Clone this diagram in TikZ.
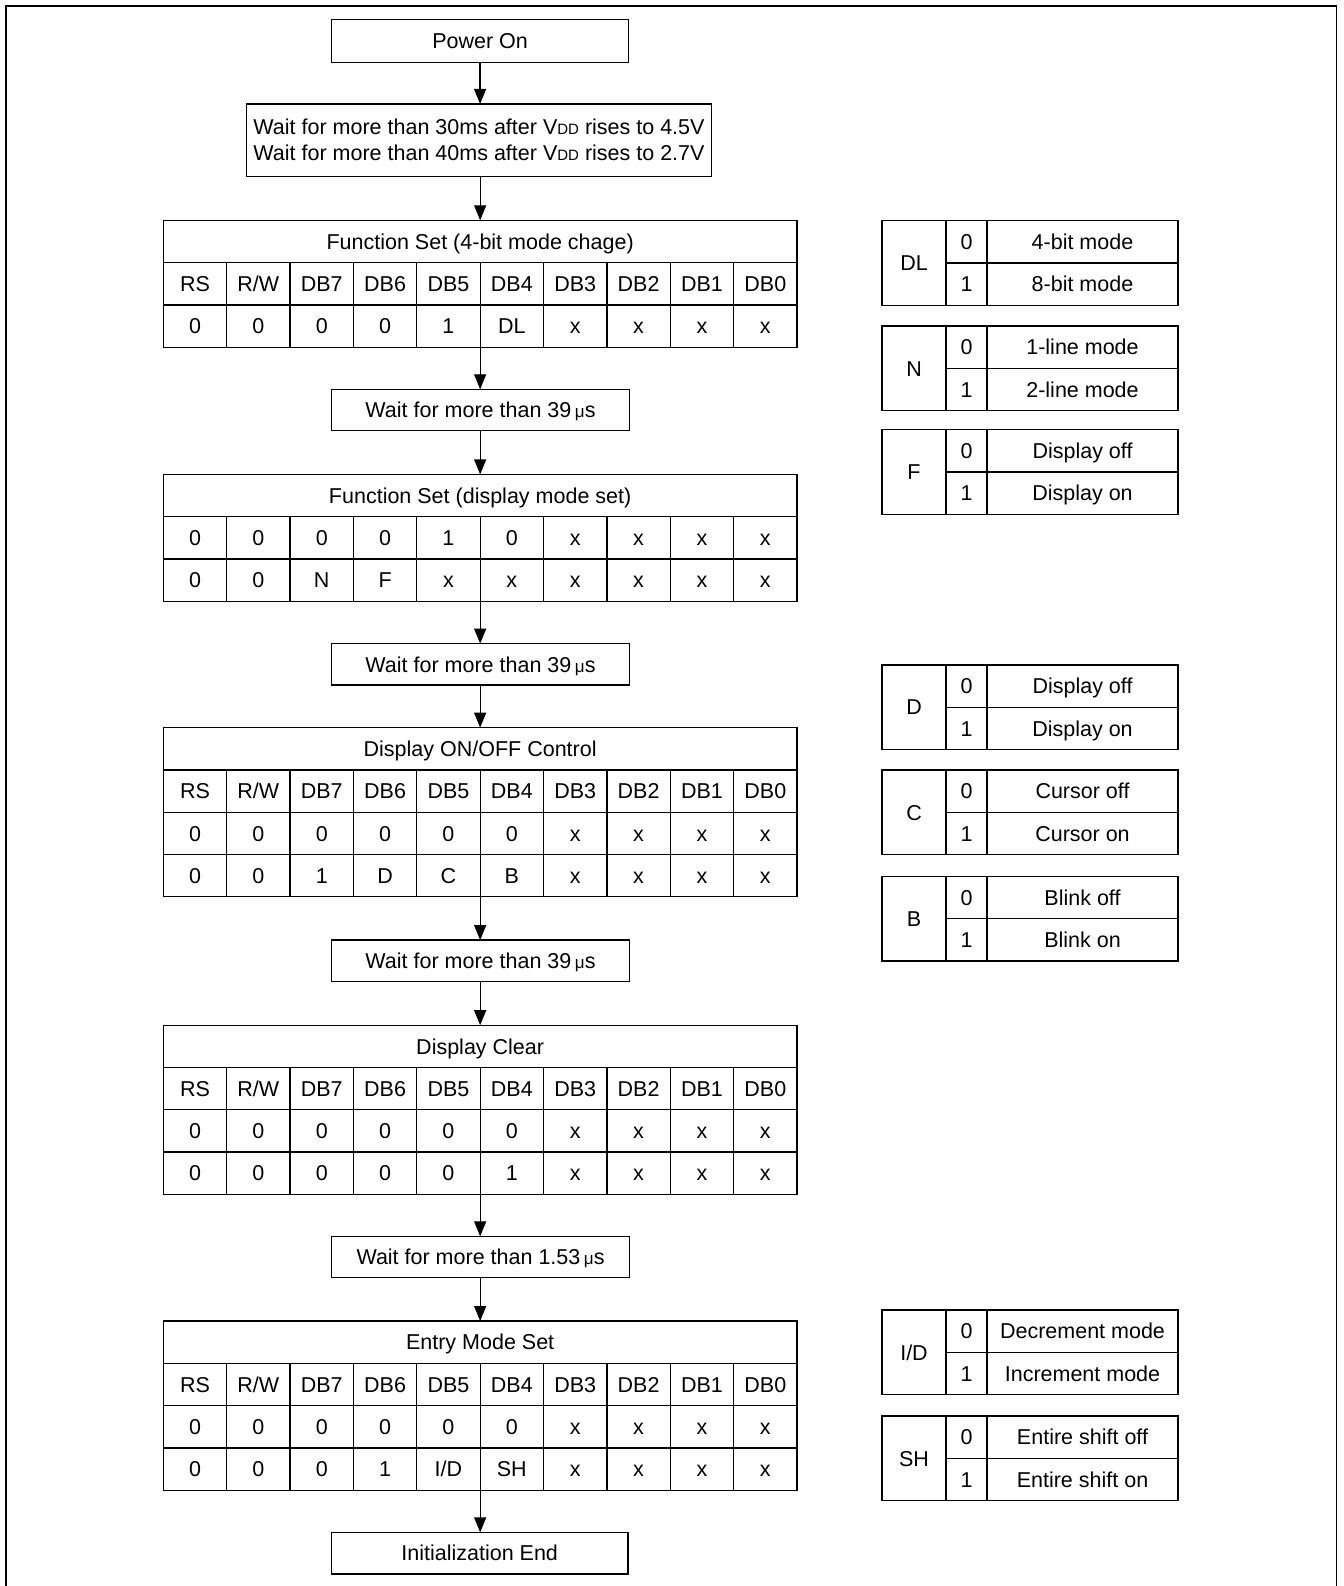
\documentclass[tikz,border=0pt]{standalone}
\usepackage{fontspec}
\setmainfont{Liberation Sans}
\usetikzlibrary{arrows.meta}
\tikzset{
  base/.style={font=\fontsize{21.5}{26}\selectfont, inner sep=0pt, outer sep=0pt},
  box/.style={base, draw, line width=1.3pt, align=center},
  onebox/.style={box, text height=15.4pt, text depth=0pt},
  cell/.style={base, draw, line width=1.3pt, minimum width=63.37pt, minimum height=42.3pt, text height=15.4pt, text depth=0pt},
  arr/.style={line width=1.3pt, -{Triangle[length=15pt,width=12pt]}},
  frame/.style={line width=1.5pt},
}
\newcommand\smallcap[1]{{\fontsize{15}{15}\selectfont #1}}
\newcommand\mumark{{\fontsize{17}{17}\selectfont μ}}
\newcommand\bittable[3]{%
  \node[cell, minimum width=633.7pt, anchor=north west] (#1-t) at (163.3,#2) {#3};
}
\newcommand\bitrows[3]{%
  \foreach \rowlist [count=\ri] in {#3} {
    \foreach \val [count=\ci] in \rowlist {
      \node[cell] (#1-\ri-\ci) at ({163.3+(\ci-0.5)*63.37},{#2+(\ri+0.5)*42.3}) {\val};
    }
    \coordinate (#1-b) at (#1-\ri-6.south west);
  }
}
\newcommand\sidetable[5]{%
  \node[cell, minimum width=64pt, minimum height=84.6pt, anchor=north west] (#1-l) at (882,#2) {#3};
  \node[cell, minimum width=41pt, anchor=north west] (#1-0) at (946,#2) {0};
  \node[cell, minimum width=41pt, anchor=north west] (#1-1) at (946,{#2+42.3}) {1};
  \node[cell, minimum width=191pt, anchor=north west] (#1-d0) at (987,#2) {#4};
  \node[cell, minimum width=191pt, anchor=north west] (#1-d1) at (987,{#2+42.3}) {#5};
}
\begin{document}
\begin{tikzpicture}[x=1pt,y=-1pt]
\useasboundingbox (0,0) rectangle (1343,1586);
\fill[white] (0,0) rectangle (1343,1586);
\draw[frame] (6,1590) -- (6,6) -- (1336.5,6) -- (1336.5,1590);

% main flow
\node[onebox, minimum width=297pt, minimum height=43pt] (po) at (480.1,40.8) {Power On};
\node[box, minimum width=465.3pt, minimum height=72.7pt] (w0) at (479,140.3)
  {Wait for more than 30ms after V\smallcap{DD} rises to 4.5V\\Wait for more than 40ms after V\smallcap{DD} rises to 2.7V};

\bittable{fs1}{220.3}{Function Set (4-bit mode chage)}
\bitrows{fs1}{220.3}{{RS,R/W,DB7,DB6,DB5,DB4,DB3,DB2,DB1,DB0},{0,0,0,0,1,DL,x,x,x,x}}

\node[onebox, minimum width=297.6pt, minimum height=41.4pt] (w1) at (480.5,410) {Wait for more than 39\,\mumark s};

\bittable{fs2}{474.4}{Function Set (display mode set)}
\bitrows{fs2}{474.4}{{0,0,0,0,1,0,x,x,x,x},{0,0,N,F,x,x,x,x,x,x}}

\node[onebox, minimum width=297.6pt, minimum height=41.4pt] (w2) at (480.5,664.3) {Wait for more than 39\,\mumark s};

\bittable{doc}{727.6}{Display ON/OFF Control}
\bitrows{doc}{727.6}{{RS,R/W,DB7,DB6,DB5,DB4,DB3,DB2,DB1,DB0},{0,0,0,0,0,0,x,x,x,x},{0,0,1,D,C,B,x,x,x,x}}

\node[onebox, minimum width=297.6pt, minimum height=41.4pt] (w3) at (480.5,960.8) {Wait for more than 39\,\mumark s};

\bittable{dc}{1025.2}{Display Clear}
\bitrows{dc}{1025.2}{{RS,R/W,DB7,DB6,DB5,DB4,DB3,DB2,DB1,DB0},{0,0,0,0,0,0,x,x,x,x},{0,0,0,0,0,1,x,x,x,x}}

\node[onebox, minimum width=297.6pt, minimum height=41.4pt] (w4) at (480.5,1257) {Wait for more than 1.53\,\mumark s};

\bittable{ems}{1321}{Entry Mode Set}
\bitrows{ems}{1321}{{RS,R/W,DB7,DB6,DB5,DB4,DB3,DB2,DB1,DB0},{0,0,0,0,0,0,x,x,x,x},{0,0,0,1,I/D,SH,x,x,x,x}}

\node[onebox, minimum width=296.3pt, minimum height=41.7pt] (ie) at (479.7,1553.2) {Initialization End};

% connectors
\draw[arr] (po.south) -- (po.south |- w0.north);
\draw[arr] (w0.south -| fs1-t.south) -- (fs1-t.north);
\draw[arr] (fs1-b) -- (fs1-b |- w1.north);
\draw[arr] (w1.south -| fs2-t.south) -- (fs2-t.north);
\draw[arr] (fs2-b) -- (fs2-b |- w2.north);
\draw[arr] (w2.south -| doc-t.south) -- (doc-t.north);
\draw[arr] (doc-b) -- (doc-b |- w3.north);
\draw[arr] (w3.south -| dc-t.south) -- (dc-t.north);
\draw[arr] (dc-b) -- (dc-b |- w4.north);
\draw[arr] (w4.south -| ems-t.south) -- (ems-t.north);
\draw[arr] (ems-b) -- (ems-b |- ie.north);

% side tables
\sidetable{dl}{220.7}{DL}{4-bit mode}{8-bit mode}
\sidetable{nn}{326}{N}{1-line mode}{2-line mode}
\sidetable{ff}{429.7}{F}{Display off}{Display on}
\sidetable{dd}{664.9}{D}{Display off}{Display on}
\sidetable{cc}{770.1}{C}{Cursor off}{Cursor on}
\sidetable{bb}{876.4}{B}{Blink off}{Blink on}
\sidetable{id}{1310}{I/D}{Decrement mode}{Increment mode}
\sidetable{sh}{1416}{SH}{Entire shift off}{Entire shift on}
\end{tikzpicture}
\end{document}
